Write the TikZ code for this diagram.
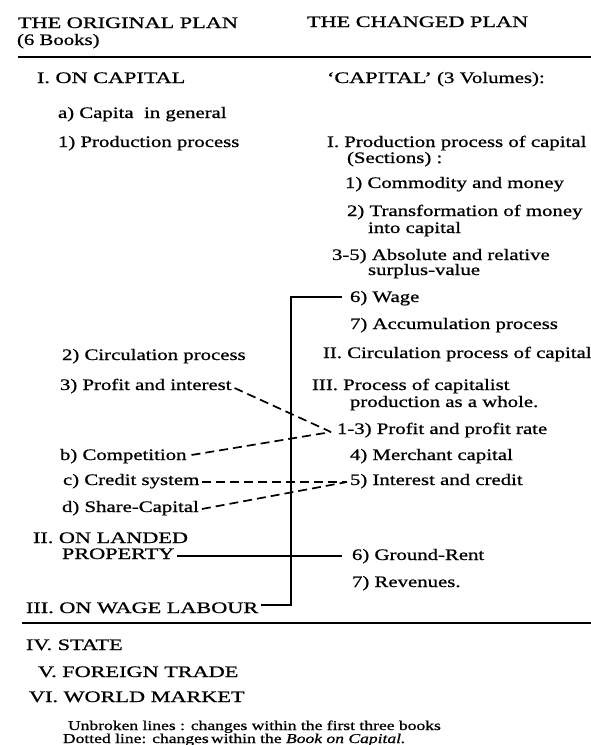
\documentclass[tikz,border=0pt]{standalone}
\usepackage{fontspec}
\setmainfont[FakeStretch=1.30,FakeBold=0.9]{Liberation Serif}
\newfontfamily\capfont[FakeStretch=1.39,FakeBold=0.9]{Liberation Serif}
\begin{document}
\begin{tikzpicture}[x=1pt,y=-1pt,
  txt/.style={anchor=base west,inner sep=0pt,outer sep=0pt,font=\fontsize{16}{18}\selectfont},
  captxt/.style={anchor=base west,inner sep=0pt,outer sep=0pt,font=\capfont\fontsize{16}{18}\selectfont},
  note/.style={anchor=base west,inner sep=0pt,outer sep=0pt,font=\fontsize{13.5}{15}\selectfont},
  solidln/.style={line width=1.5pt},
  dashln/.style={line width=1.7pt,dash pattern=on 9pt off 5pt},
  rulex/.style={line width=1.7pt}]
\useasboundingbox (0,0) rectangle (591,745);
% headers
\node[captxt] (h1) at (18,28) {THE ORIGINAL PLAN};
\node[txt] (h1b) at (17,45) {(6 Books)};
\node[captxt] (h2) at (307,27) {THE CHANGED PLAN};
\coordinate (r1a) at (18,57);
\coordinate (r1b) at (591,57);
\draw[rulex] (r1a) -- (r1b);
% left column
\node[captxt] (l1) at (37,83) {I. ON CAPITAL};
\node[txt] (la) at (58,118) {a) Capita\ \ in general};
\node[txt] (l11) at (58,147) {1) Production process};
\node[txt] (l12) at (62,360) {2) Circulation process};
\node[txt] (l13) at (60,390) {3) Profit and interest};
\node[txt] (lb) at (60,460) {b) Competition};
\node[txt] (lc) at (63,485) {c) Credit system};
\node[txt] (ld) at (62,512) {d) Share-Capital};
\node[captxt] (l2) at (33,543) {II. ON LANDED};
\node[captxt] (l2b) at (62,559) {PROPERTY};
\node[captxt] (l3) at (26,613) {III. ON WAGE LABOUR};
\coordinate (r2a) at (22,623);
\coordinate (r2b) at (591,623);
\draw[rulex] (r2a) -- (r2b);
\node[captxt] (l4) at (26,650) {IV. STATE};
\node[captxt] (l5) at (38,677) {V. FOREIGN TRADE};
\node[captxt] (l6) at (29,702) {VI. WORLD MARKET};
\node[note] (n1) at (68,730) {Unbroken lines : changes within the first three books};
\node[note] (n2) at (63,743) {Dotted line: changes\,within the \textit{Book on Capital.}};
% right column
\node[txt] (rc) at (327,83) {{\capfont‘CAPITAL’} (3 Volumes):};
\node[txt] (r1) at (327,147) {I. Production process of capital};
\node[txt] (r1s) at (347,163) {(Sections) :};
\node[txt] (r11) at (345,188) {1) Commodity and money};
\node[txt] (r12) at (347,216) {2) Transformation of money};
\node[txt] (r12b) at (368,233) {into capital};
\node[txt] (r135) at (332,260) {3-5) Absolute and relative};
\node[txt] (r135b) at (368,275) {surplus-value};
\node[txt] (r16) at (350,302) {6) Wage};
\node[txt] (r17) at (350,329) {7) Accumulation process};
\node[txt] (r2) at (323,358) {II. Circulation process of capital};
\node[txt] (r3) at (312,390) {III. Process of capitalist};
\node[txt] (r3b) at (350,407) {production as a whole.};
\node[txt] (r313) at (337,434) {1-3) Profit and profit rate};
\node[txt] (r34) at (350,460) {4) Merchant capital};
\node[txt] (r35) at (350,485) {5) Interest and credit};
\node[txt] (r36) at (352,560) {6) Ground-Rent};
\node[txt] (r37) at (352,587) {7) Revenues.};
% solid connectors
\coordinate (ctop) at (291,297);
\coordinate (cbot) at (291,605);
\draw[solidln] ([shift={(3,-8)}]l3.base east) -- (cbot) -- (ctop) -- ([shift={(-8,-5)}]r16.base west);
\draw[solidln] ([shift={(3,-3)}]l2b.base east) -- ([shift={(-10,-4)}]r36.base west);
% dashed connectors
\coordinate (v13) at ([shift={(-6,-2)}]r313.base west);
\coordinate (v5) at ([shift={(-3,-3)}]r35.base west);
\draw[dashln] ([shift={(3,-2)}]l13.base east) -- (v13);
\draw[dashln] ([shift={(5,-5)}]lb.base east) -- (v13);
\draw[dashln] ([shift={(3,-3)}]lc.base east) -- (v5);
\draw[dashln] ([shift={(3,-3)}]ld.base east) -- (v5);
\end{tikzpicture}
\end{document}
